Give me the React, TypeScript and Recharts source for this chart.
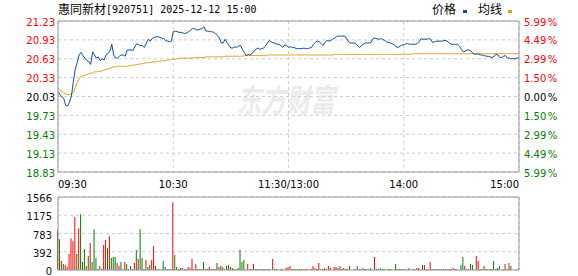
import React from "react";
import {
  ComposedChart,
  Line,
  Bar,
  Cell,
  XAxis,
  YAxis,
  CartesianGrid,
  ReferenceLine,
} from "recharts";

const PREV_CLOSE = 20.03;
const RED = "#ff0000";
const GREEN = "#008000";
const BLUE = "#0b4ea2";
const GOLD = "#e0a31e";
const BORDER = "#999999";
const GRID = "#cccccc";

const priceTicks = [18.83, 19.13, 19.43, 19.73, 20.03, 20.33, 20.63, 20.93, 21.23];
const pctLabels = ["5.99", "4.49", "2.99", "1.50", "0.00", "1.50", "2.99", "4.49", "5.99"];
const timeTicks = [0, 60, 120, 180, 240];
const timeLabels = ["09:30", "10:30", "11:30/13:00", "14:00", "15:00"];
const volTicks = [0, 392, 783, 1175, 1566];

// one point per minute, 09:30 .. 11:30 then 13:01 .. 15:00
const price = [
  20.11, 20.06, 20.02, 20.0, 19.89, 19.88, 19.94, 20.04, 20.27, 20.47,
  20.57, 20.69, 20.73, 20.68, 20.64, 20.6, 20.59, 20.54, 20.74, 20.69,
  20.64, 20.66, 20.6, 20.63, 20.61, 20.69, 20.71, 20.75, 20.86, 20.69,
  20.64, 20.64, 20.67, 20.69, 20.69, 20.67, 20.77, 20.77, 20.77, 20.76,
  20.82, 20.87, 20.85, 20.84, 20.84, 20.81, 20.88, 20.94, 20.91, 20.95,
  20.97, 20.98, 20.98, 20.97, 20.96, 20.95, 20.92, 20.91, 20.9, 20.91,
  21.06,
  21.07, 21.06, 21.05, 21.05, 21.04, 21.03, 21.04, 21.06, 21.08, 21.11,
  21.11, 21.09, 21.09, 21.1, 21.11, 21.14, 21.07, 21.07, 21.06, 21.06,
  21.05, 21.03, 21.0, 20.96, 20.88, 20.88, 20.94, 20.89, 20.84, 20.8,
  20.8, 20.82, 20.81, 20.83, 20.84, 20.78, 20.73, 20.68, 20.7, 20.69,
  20.71, 20.75, 20.78, 20.8, 20.78, 20.79, 20.8, 20.83, 20.88, 20.92,
  20.9, 20.88, 20.88, 20.86, 20.86, 20.84, 20.81, 20.85, 20.84, 20.81,
  20.82, 20.81, 20.81, 20.79, 20.79, 20.79, 20.79, 20.8, 20.79, 20.79,
  20.8, 20.81, 20.86, 20.89, 20.91, 20.9, 20.87, 20.84, 20.89, 20.92,
  20.91, 20.92, 20.94, 20.96, 20.98, 20.99, 20.99, 20.99, 20.99, 20.97,
  20.91, 20.88, 20.88, 20.88, 20.87, 20.84, 20.81, 20.84, 20.86, 20.88,
  20.88, 20.88, 20.89, 20.95, 20.96, 20.95, 20.94, 20.95, 20.94, 20.92,
  20.9, 20.89, 20.88, 20.87, 20.85, 20.82, 20.81, 20.83, 20.85, 20.85,
  20.87, 20.87, 20.86, 20.86, 20.86, 20.86, 20.87, 20.9, 20.95, 20.94,
  20.94, 20.94, 20.95, 20.94, 20.89, 20.9, 20.91, 20.91, 20.91, 20.91,
  20.92, 20.92, 20.9, 20.87, 20.86, 20.86, 20.86, 20.86, 20.83, 20.78,
  20.74, 20.75, 20.77, 20.77, 20.75, 20.72, 20.7, 20.71, 20.7, 20.69,
  20.69, 20.68, 20.67, 20.67, 20.66, 20.65, 20.67, 20.7, 20.69, 20.65,
  20.65, 20.67, 20.68, 20.64, 20.64, 20.63, 20.63, 20.63, 20.64, 20.65,
];

const avgPrice = [
  20.16, 20.13, 20.11, 20.09, 20.07, 20.06, 20.06, 20.07, 20.1, 20.17,
  20.25, 20.31, 20.35, 20.36, 20.37, 20.38, 20.39, 20.4, 20.41, 20.42,
  20.42, 20.43, 20.43, 20.44, 20.45, 20.46, 20.47, 20.48, 20.49, 20.5,
  20.5, 20.51, 20.51, 20.51, 20.51, 20.51, 20.51, 20.52, 20.52, 20.53,
  20.53, 20.54, 20.54, 20.55, 20.55, 20.56, 20.56, 20.57, 20.57, 20.58,
  20.58, 20.58, 20.59, 20.59, 20.6, 20.6, 20.6, 20.61, 20.61, 20.62,
  20.62,
  20.62, 20.63, 20.64, 20.64, 20.64, 20.64, 20.64, 20.64, 20.64, 20.64,
  20.65, 20.65, 20.65, 20.65, 20.65, 20.65, 20.66, 20.66, 20.66, 20.66,
  20.66, 20.66, 20.66, 20.66, 20.66, 20.66, 20.67, 20.67, 20.67, 20.67,
  20.67, 20.67, 20.67, 20.67, 20.67, 20.67, 20.68, 20.68, 20.68, 20.68,
  20.68, 20.68, 20.68, 20.68, 20.68, 20.68, 20.68, 20.68, 20.69, 20.69,
  20.69, 20.69, 20.69, 20.69, 20.69, 20.69, 20.69, 20.69, 20.69, 20.69,
  20.69, 20.69, 20.69, 20.69, 20.69, 20.69, 20.69, 20.69, 20.69, 20.69,
  20.69, 20.69, 20.69, 20.69, 20.69, 20.69, 20.69, 20.69, 20.69, 20.69,
  20.69, 20.69, 20.69, 20.7, 20.7, 20.7, 20.7, 20.7, 20.7, 20.7,
  20.7, 20.7, 20.7, 20.7, 20.7, 20.7, 20.7, 20.7, 20.7, 20.7,
  20.7, 20.7, 20.7, 20.7, 20.7, 20.7, 20.7, 20.7, 20.7, 20.7,
  20.7, 20.7, 20.7, 20.7, 20.7, 20.7, 20.7, 20.7, 20.7, 20.7,
  20.7, 20.7, 20.7, 20.7, 20.71, 20.71, 20.71, 20.71, 20.71, 20.71,
  20.71, 20.71, 20.71, 20.71, 20.71, 20.71, 20.71, 20.71, 20.71, 20.71,
  20.71, 20.71, 20.71, 20.71, 20.71, 20.71, 20.71, 20.71, 20.71, 20.71,
  20.71, 20.71, 20.71, 20.71, 20.71, 20.71, 20.71, 20.71, 20.71, 20.71,
  20.71, 20.71, 20.71, 20.71, 20.71, 20.71, 20.71, 20.71, 20.71, 20.71,
  20.71, 20.71, 20.71, 20.71, 20.71, 20.71, 20.71, 20.71, 20.71, 20.71,
];

// morning 0..120 (rows of ten + the 11:30 minute), afternoon 121..240
const volume = [
  854, 662, 192, 128, 114, 71, 342, 683, 619, 1139,
  342, 897, 1196, 171, 448, 85, 299, 577, 171, 876,
  256, 21, 85, 21, 534, 641, 470, 726, 256, 278,
  278, 150, 85, 171, 21, 171, 128, 21, 85, 21,
  150, 427, 235, 876, 256, 21, 214, 64, 107, 214,
  513, 85, 21, 21, 0, 192, 64, 21, 21, 21,
  1452, 320, 64, 21, 43, 43, 21, 21, 64, 43,
  235, 21, 128, 21, 21, 21, 171, 21, 21, 64,
  21, 21, 21, 150, 64, 85, 64, 21, 85, 107,
  64, 43, 21, 21, 43, 427, 171, 214, 0, 128,
  21, 21, 128, 21, 21, 21, 21, 21, 21, 21,
  21, 0, 235, 21, 21, 0, 21, 21, 0, 43,
  64,
  85, 21, 21, 21, 21, 21, 21, 21, 21, 21,
  0, 21, 85, 43, 21, 150, 21, 21, 43, 21,
  85, 43, 0, 64, 64, 43, 85, 21, 43, 21,
  21, 85, 0, 0, 21, 85, 21, 21, 43, 21,
  21, 21, 43, 0, 278, 21, 21, 43, 21, 21,
  0, 21, 21, 21, 0, 128, 21, 21, 21, 21,
  21, 0, 43, 0, 21, 21, 43, 43, 0, 107,
  107, 21, 21, 171, 21, 21, 21, 21, 21, 21,
  21, 21, 21, 21, 21, 43, 21, 21, 0, 107,
  278, 85, 21, 21, 128, 107, 0, 299, 192, 21,
  21, 85, 21, 21, 21, 21, 192, 21, 43, 85,
  0, 21, 128, 21, 150, 85, 0, 0, 0, 43,
];

// r = up minute, g = down minute, same row layout as volume
const volSide = [
  "rgrgrrrrrr", "grgggrgrgg", "grgrrrgrgg", "grrggrgrgr",
  "rgrgggrggr", "rrggggggrg", "rggrrrggrr", "rgrrrrggrr",
  "rgrgrrgrgg", "rgrrggggrr", "rgrgggrgrr", "ggrgggrggr",
  "r",
  "rgggrrrrgr", "rrrrgrggrg", "rrrrrgrrrg", "ggggggrggr",
  "rrgrrggggg", "gggggggrrr", "rggrrrrrrr", "grrrgrgrrg",
  "rgrrrrrggg", "grgrgggrrg", "rgrgrggrgg", "ggrggrrggr",
].join("");

const priceRows = price.map((p, i) => ({ i, p, a: avgPrice[i] }));
const volRows = volume.map((v, i) => ({ i, v }));

const DIGITS = "DejaVu Sans";
const CJK = "Noto Sans CJK SC";

function sideColor(v: number) {
  if (v > PREV_CLOSE + 0.001) return RED;
  if (v < PREV_CLOSE - 0.001) return GREEN;
  return "#000";
}

function PriceTick(props: any) {
  const { x, y, payload } = props;
  return (
    <text x={x} y={y} dy={4.5} textAnchor="end" fontSize={10} fontFamily={DIGITS} fill={sideColor(payload.value)}>
      {payload.value.toFixed(2)}
    </text>
  );
}

function PctTick(props: any) {
  const { x, y, payload, index } = props;
  return (
    <text x={x} y={y} dy={4.5} textAnchor="start" fontSize={10} fontFamily={DIGITS} fill={sideColor(payload.value)}>
      {pctLabels[index]}
      <tspan dx={1.5}>%</tspan>
    </text>
  );
}

function TimeTick(props: any) {
  const { x, y, index } = props;
  const anchor = index === 0 ? "start" : index === timeLabels.length - 1 ? "end" : "middle";
  return (
    <text x={x} y={y} dy={13.5} textAnchor={anchor} fontSize={10} fontFamily={DIGITS} fill="#000">
      {timeLabels[index]}
    </text>
  );
}

function VolTick(props: any) {
  const { x, y, payload } = props;
  return (
    <text x={x} y={y} dy={5} textAnchor="end" fontSize={10} fontFamily={DIGITS} fill="#111">
      {payload.value}
    </text>
  );
}

export default function App() {
  return (
    <div style={{ position: "relative", width: 578, height: 276, background: "#fff", overflow: "hidden" }}>
      <style>{"body{margin:0}"}</style>

      <svg width={578} height={276} style={{ position: "absolute", left: 0, top: 0 }}>
        <text
          x={237}
          y={112}
          fontSize={32}
          fontFamily={CJK}
          fontWeight={700}
          fontStyle="italic"
          fill="#ebebeb"
          textLength={98}
          lengthAdjust="spacingAndGlyphs"
        >
          东方财富
        </text>
        <text x={58} y={13.5} fontSize={12} fontFamily={CJK} fill="#000">
          惠同新材
        </text>
        <text x={106} y={13} fontSize={10} fontFamily="DejaVu Sans Mono" fill="#000">
          [920751] 2025-12-12 15:00
        </text>
        <text x={432} y={13.5} fontSize={12} fontFamily={CJK} fill="#000">
          价格
        </text>
        <rect x={463} y={10} width={4} height={3} fill={BLUE} />
        <text x={478} y={13.5} fontSize={12} fontFamily={CJK} fill="#000">
          均线
        </text>
        <rect x={508} y={10} width={4} height={3} fill={GOLD} />
      </svg>

      <div style={{ position: "absolute", left: 0, top: 0 }}>
        <ComposedChart width={578} height={190} data={priceRows} margin={{ top: 21, right: 0, bottom: 0, left: 0 }}>
          <CartesianGrid yAxisId="p" stroke={GRID} strokeDasharray="3 3" />
          <XAxis
            dataKey="i"
            type="number"
            domain={[0, 240]}
            ticks={timeTicks}
            interval={0}
            height={18}
            tickSize={0}
            tickLine={false}
            axisLine={{ stroke: BORDER }}
            tick={<TimeTick />}
          />
          <YAxis
            yAxisId="p"
            domain={[18.83, 21.23]}
            ticks={priceTicks}
            interval={0}
            width={58}
            tickSize={0}
            tickMargin={3}
            tickLine={false}
            axisLine={{ stroke: BORDER }}
            tick={<PriceTick />}
            allowDataOverflow
          />
          <YAxis
            yAxisId="pct"
            orientation="right"
            domain={[18.83, 21.23]}
            ticks={priceTicks}
            interval={0}
            width={59}
            tickSize={0}
            tickMargin={5}
            tickLine={false}
            axisLine={{ stroke: BORDER }}
            tick={<PctTick />}
            allowDataOverflow
          />
          <ReferenceLine yAxisId="p" y={21.23} stroke={BORDER} />
          <Line
            yAxisId="p"
            type="linear"
            dataKey="a"
            stroke={GOLD}
            strokeWidth={1}
            dot={false}
            isAnimationActive={false}
          />
          <Line
            yAxisId="p"
            type="linear"
            dataKey="p"
            stroke={BLUE}
            strokeWidth={1}
            dot={false}
            isAnimationActive={false}
          />
        </ComposedChart>
      </div>

      <div style={{ position: "absolute", left: 0, top: 190 }}>
        <ComposedChart width={578} height={86} data={volRows} margin={{ top: 7, right: 0, bottom: 0, left: 0 }}>
          <CartesianGrid yAxisId="v" stroke={GRID} strokeDasharray="3 3" />
          <XAxis
            dataKey="i"
            type="number"
            domain={[0, 240]}
            ticks={timeTicks}
            interval={0}
            height={6}
            tick={false}
            tickLine={false}
            axisLine={{ stroke: BORDER }}
          />
          <YAxis
            yAxisId="v"
            domain={[0, 1566]}
            ticks={volTicks}
            interval={0}
            width={58}
            tickSize={0}
            tickMargin={6}
            tickLine={false}
            axisLine={{ stroke: BORDER }}
            tick={<VolTick />}
          />
          <YAxis
            yAxisId="vr"
            orientation="right"
            domain={[0, 1566]}
            width={59}
            tick={false}
            tickLine={false}
            axisLine={{ stroke: BORDER }}
          />
          <ReferenceLine yAxisId="v" y={1566} stroke={BORDER} />
          <Bar yAxisId="v" dataKey="v" barSize={1} isAnimationActive={false}>
            {volRows.map((r) => (
              <Cell key={r.i} fill={volSide[r.i] === "g" ? GREEN : RED} />
            ))}
          </Bar>
        </ComposedChart>
      </div>
    </div>
  );
}
